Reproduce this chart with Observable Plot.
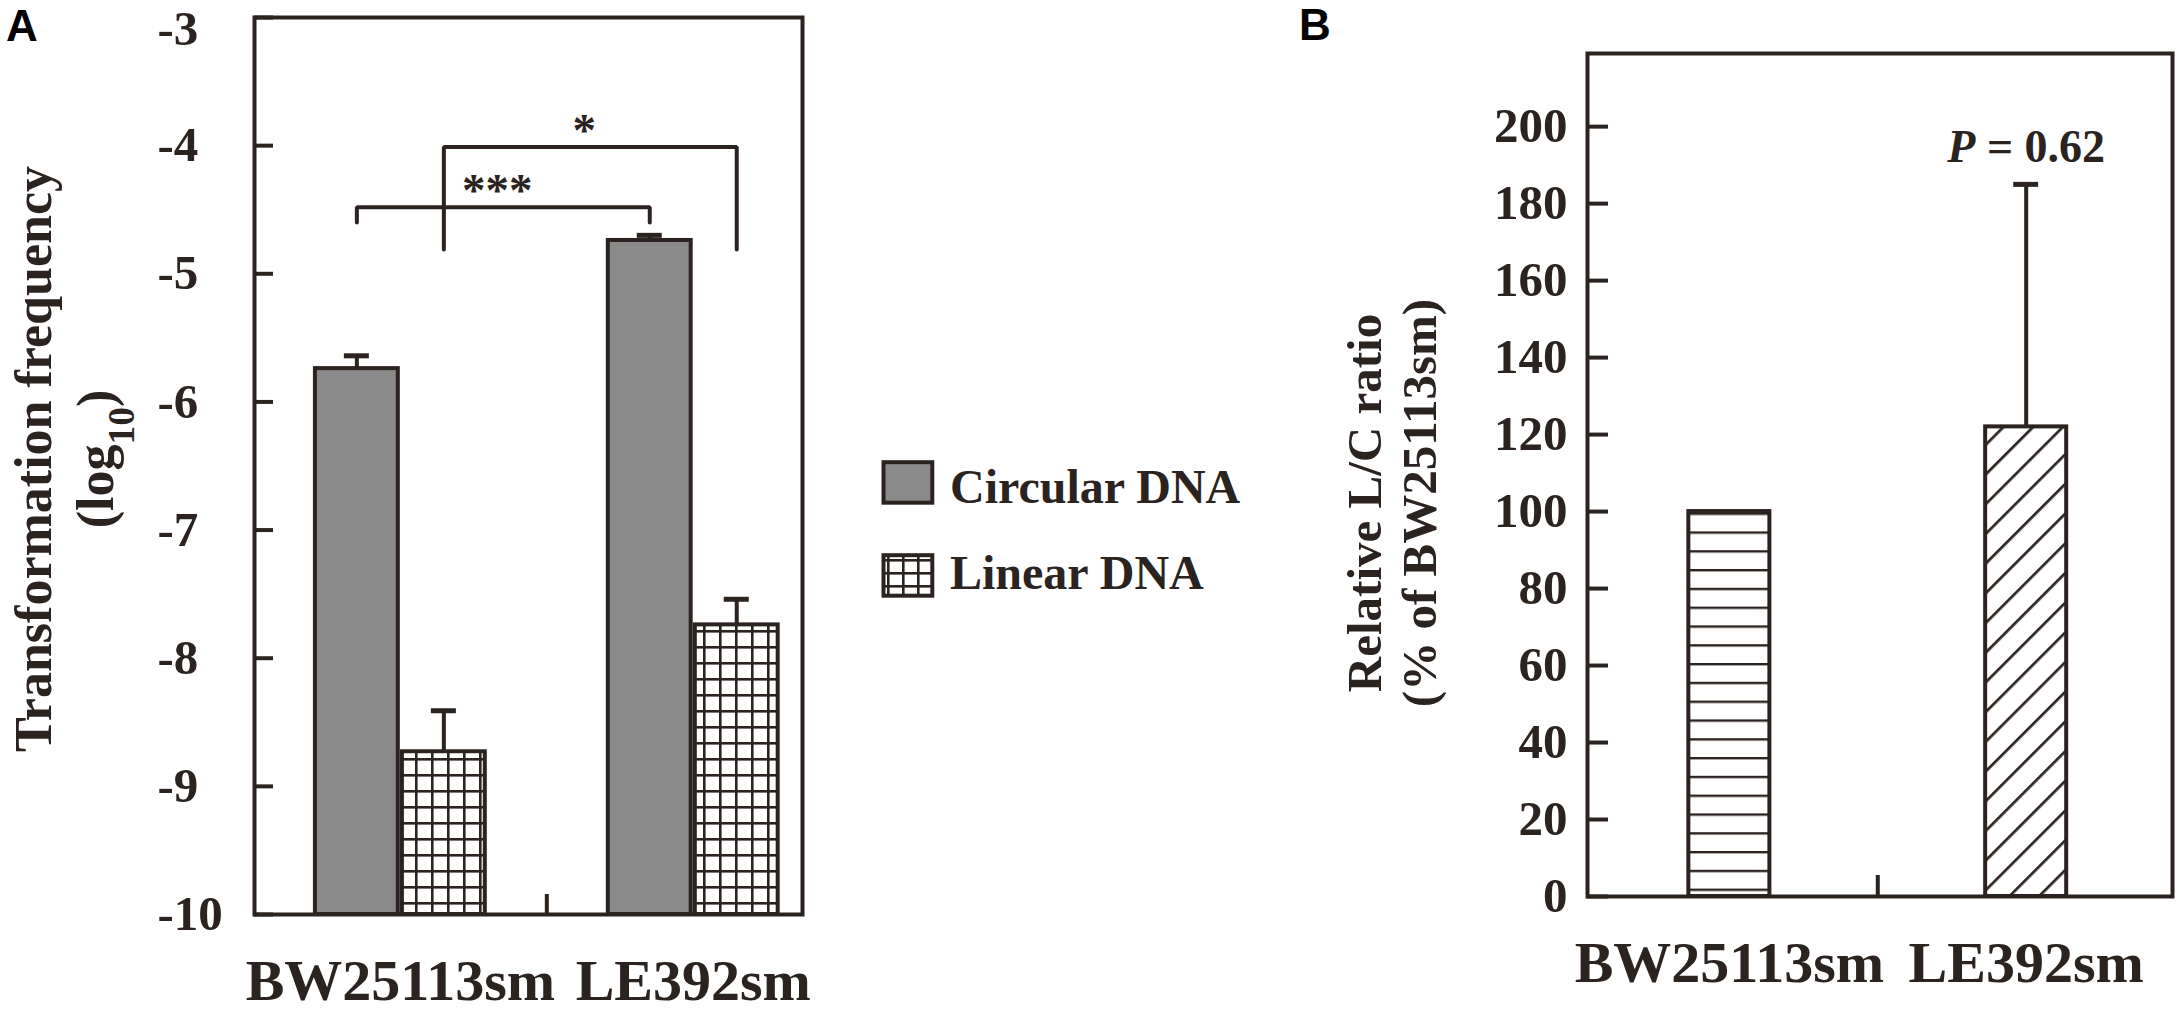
<!DOCTYPE html>
<html>
<head>
<meta charset="utf-8">
<script src="https://cdn.jsdelivr.net/npm/d3@7"></script>
<script src="https://cdn.jsdelivr.net/npm/@observablehq/plot@0.6"></script>
<style>
  html, body { margin: 0; padding: 0; background: #fff; }
  #root { position: relative; width: 2180px; height: 1017px; overflow: hidden; background: #fff; }
  .panel { position: absolute; top: 0; }
  .plabel { position: absolute; font-family: "Liberation Sans", Arial, sans-serif; font-weight: bold; font-size: 44px; line-height: 1; color: #000; }
  #legend { position: absolute; left: 870px; top: 440px; }
</style>
</head>
<body>
<div id="root">
  <div class="plabel" style="left:6px;top:4px;">A</div>
  <div class="plabel" style="left:1299px;top:3px;">B</div>
</div>
<script>
// ---------------- data ----------------
const strains = ["BW25113sm", "LE392sm"];
const dnaTypes = ["Circular DNA", "Linear DNA"];
// Panel A: transformation frequency (log10), mean and error
const circularMean = [-5.74, -4.74];
const circularErr  = [0.10, 0.04];
const linearMean   = [-8.73, -7.74];
const linearErr    = [0.32, 0.20];
const ticksA = [-10, -9, -8, -7, -6, -5, -4, -3];
// significance brackets (panel A)
const sigLabels = ["***", "*"];
const sigTypes  = ["Circular DNA", "Linear DNA"];
const sigTop    = [-4.48, -4.01];
const sigDrop   = [-4.60, -4.81];
// Panel B: relative L/C ratio (% of BW25113sm)
const lcRatio    = [100, 122];
const lcRatioErr = [0, 63];
const ticksB = [0, 20, 40, 60, 80, 100, 120, 140, 160, 180, 200];
const pLabel = "P = 0.62";
const titleA = "Transformation frequency\n(log10)";
const titleB = "Relative L/C ratio\n(% of BW25113sm)";

// ---------------- styles / layout ----------------
const INK = "#2b2320";
const GRAY = "#8a8a8a";
const SERIF = "'Liberation Serif', 'Times New Roman', Times, serif";
const BAR_A = 0.283, GAP_A = 0.007, CAP_A = 0.0427;
const HALF_B = 0.1365, CAP_B = 0.042;
const svgNS = "http://www.w3.org/2000/svg";
const dimA = {width: 880, height: 1017, marginTop: 17, marginBottom: 103, marginLeft: 254, marginRight: 78};
const dimB = {width: 880, height: 1017, marginTop: 53, marginBottom: 121, marginLeft: 287, marginRight: 8};
const xDomA = [-0.498, 1.373];
const xDomB = [-0.478, 1.493];
const innerW = d => d.width - d.marginLeft - d.marginRight;
// tick length in px converted to x units
const tickUnits = (px, dom, dim) => px * (dom[1] - dom[0]) / innerW(dim);

function defsMark(markup) {
  return () => {
    const d = document.createElementNS(svgNS, "defs");
    d.innerHTML = markup;
    return d;
  };
}

// ---------------- Panel A ----------------
const rowsA = strains.flatMap((s, i) => [
  {strain: s, idx: i, type: dnaTypes[0], side: -1, mean: circularMean[i], err: circularErr[i]},
  {strain: s, idx: i, type: dnaTypes[1], side: 1, mean: linearMean[i], err: linearErr[i]}
]);
const x1A = d => d.side < 0 ? d.idx - GAP_A - BAR_A : d.idx + GAP_A;
const x2A = d => d.side < 0 ? d.idx - GAP_A : d.idx + GAP_A + BAR_A;
const cxOf = (idx, side) => idx + side * (GAP_A + BAR_A / 2);
const cxA = d => cxOf(d.idx, d.side);

const bracketPts = sigLabels.flatMap((lab, k) => {
  const side = sigTypes[k] === dnaTypes[0] ? -1 : 1;
  const xa = cxOf(0, side), xb = cxOf(1, side);
  return [
    {k, x: xa, y: sigDrop[k]}, {k, x: xa, y: sigTop[k]},
    {k, x: xb, y: sigTop[k]}, {k, x: xb, y: sigDrop[k]}
  ];
});
const sigRows = sigLabels.map((lab, k) => {
  const side = sigTypes[k] === dnaTypes[0] ? -1 : 1;
  return {label: lab, x: (cxOf(0, side) + cxOf(1, side)) / 2, y: sigTop[k]};
});

const gridDefsA = `<pattern id="gridA" patternUnits="userSpaceOnUse" x="15" y="6" width="16" height="16">
  <rect width="16" height="16" fill="#fff"/>
  <rect width="16" height="2.6" fill="${INK}"/>
  <rect width="2.6" height="16" fill="${INK}"/>
</pattern>`;

const topTickA = ticksA[ticksA.length - 1];
const tickLenA = tickUnits(19, xDomA, dimA);
const plotA = Plot.plot({
  ...dimA,
  x: {type: "linear", domain: xDomA},
  y: {domain: [ticksA[0], topTickA]},
  style: {fontFamily: SERIF, fontWeight: "bold", color: INK, background: "transparent", overflow: "visible"},
  marks: [
    defsMark(gridDefsA),
    Plot.ruleX(rowsA, {x: cxA, y1: "mean", y2: d => d.mean + d.err, stroke: INK, strokeWidth: 4}),
    Plot.ruleY(rowsA, {y: d => d.mean + d.err, x1: d => cxA(d) - CAP_A, x2: d => cxA(d) + CAP_A, stroke: INK, strokeWidth: 5}),
    Plot.rect(rowsA.filter(d => d.type === dnaTypes[0]), {x1: x1A, x2: x2A, y1: ticksA[0], y2: "mean", fill: GRAY, stroke: INK, strokeWidth: 4}),
    Plot.rect(rowsA.filter(d => d.type === dnaTypes[1]), {x1: x1A, x2: x2A, y1: ticksA[0], y2: "mean", fill: "url(#gridA)", stroke: INK, strokeWidth: 4}),
    Plot.line(bracketPts, {x: "x", y: "y", z: "k", stroke: INK, strokeWidth: 4, strokeLinejoin: "miter"}),
    Plot.text(sigRows, {x: "x", y: "y", text: "label", lineAnchor: "bottom", dx: -6, dy: -1, fontSize: 47, fill: INK}),
    // inward y ticks
    Plot.ruleY(ticksA, {y: d => d, x1: xDomA[0], x2: xDomA[0] + tickLenA, stroke: INK, strokeWidth: 4}),
    Plot.frame({stroke: INK, strokeWidth: 4}),
    Plot.axisY(ticksA.filter(t => t !== topTickA), {anchor: "left", tickSize: 0, tickPadding: 97, textAnchor: "start", tickFormat: d => String(d), fontSize: 49, label: null}),
    Plot.axisY([topTickA], {anchor: "left", tickSize: 0, tickPadding: 97, textAnchor: "start", lineAnchor: "bottom", dy: 27, tickFormat: d => String(d), fontSize: 49, label: null}),
    Plot.axisX([0, 1], {anchor: "bottom", tickSize: 0, tickPadding: 44, tickFormat: i => strains[i], fontSize: 58, label: null}),
    Plot.axisX([0.5], {anchor: "bottom", tickSize: -20, tickFormat: () => "", stroke: INK, strokeWidth: 4, label: null}),
    Plot.text([titleA], {frameAnchor: "left", rotate: -90, dx: -142, dy: -7, lineAnchor: "bottom", lineHeight: 1.19, textAnchor: "middle", fontSize: 52, fill: INK})
  ]
});

// ---------------- Panel B ----------------
const rowsB = strains.map((s, i) => ({strain: s, idx: i, value: lcRatio[i], err: lcRatioErr[i]}));
const errRowsB = rowsB.filter(d => d.err > 0);
const defsB = `<pattern id="stripesB" patternUnits="userSpaceOnUse" x="0" y="5" width="20" height="18.8">
  <rect width="20" height="18.8" fill="#fff"/>
  <rect width="20" height="2.4" fill="${INK}"/>
</pattern>
<pattern id="hatchB" patternUnits="userSpaceOnUse" width="21" height="21" patternTransform="rotate(45)">
  <rect width="21" height="21" fill="#fff"/>
  <rect width="2.7" height="21" fill="${INK}"/>
</pattern>`;

const tickLenB = tickUnits(21, xDomB, dimB);
const plotB = Plot.plot({
  ...dimB,
  x: {type: "linear", domain: xDomB},
  y: {domain: [0, 219]},
  style: {fontFamily: SERIF, fontWeight: "bold", color: INK, background: "transparent", overflow: "visible"},
  marks: [
    defsMark(defsB),
    Plot.ruleX(errRowsB, {x: "idx", y1: "value", y2: d => d.value + d.err, stroke: INK, strokeWidth: 4}),
    Plot.ruleY(errRowsB, {y: d => d.value + d.err, x1: d => d.idx - CAP_B, x2: d => d.idx + CAP_B, stroke: INK, strokeWidth: 5}),
    Plot.rect(rowsB.filter(d => d.idx === 0), {x1: d => d.idx - HALF_B, x2: d => d.idx + HALF_B, y1: 0, y2: "value", fill: "url(#stripesB)", stroke: INK, strokeWidth: 4}),
    Plot.rect(rowsB.filter(d => d.idx === 1), {x1: d => d.idx - HALF_B, x2: d => d.idx + HALF_B, y1: 0, y2: "value", fill: "url(#hatchB)", stroke: INK, strokeWidth: 4}),
    Plot.text(errRowsB, {x: "idx", y: d => d.value + d.err, text: () => pLabel, lineAnchor: "bottom", dy: -22, fontSize: 46, fill: INK}),
    Plot.ruleY(ticksB, {y: d => d, x1: xDomB[0], x2: xDomB[0] + tickLenB, stroke: INK, strokeWidth: 4}),
    Plot.frame({stroke: INK, strokeWidth: 4}),
    Plot.axisY(ticksB, {anchor: "left", tickSize: 0, tickPadding: 20, tickFormat: d => String(d), fontSize: 49, label: null}),
    Plot.axisX([0, 1], {anchor: "bottom", tickSize: 0, tickPadding: 44, tickFormat: i => strains[i], fontSize: 58, label: null}),
    Plot.axisX([0.5], {anchor: "bottom", tickSize: -21, tickFormat: () => "", stroke: INK, strokeWidth: 4, label: null}),
    Plot.text([titleB], {frameAnchor: "left", rotate: -90, dx: -152, dy: 28, lineAnchor: "bottom", lineHeight: 1.12, textAnchor: "middle", fontSize: 49, fill: INK})
  ]
});

// ---------------- rich text fixes (subscript, italic P) ----------------
function fixTexts(svg) {
  svg.querySelectorAll("text, tspan").forEach(el => {
    if (el.childElementCount) return;
    const t = el.textContent;
    if (t === "(log10)") {
      el.textContent = "(log";
      const sub = document.createElementNS(svgNS, "tspan");
      sub.setAttribute("font-size", "72%");
      sub.setAttribute("baseline-shift", "sub");
      sub.textContent = "10";
      el.appendChild(sub);
      const close = document.createElementNS(svgNS, "tspan");
      close.textContent = ")";
      el.appendChild(close);
    } else if (t === pLabel) {
      el.textContent = "";
      const p = document.createElementNS(svgNS, "tspan");
      p.setAttribute("font-style", "italic");
      p.textContent = pLabel.slice(0, 1);
      el.appendChild(p);
      el.appendChild(document.createTextNode(pLabel.slice(1)));
    }
  });
}
fixTexts(plotA);
fixTexts(plotB);

const root = document.getElementById("root");
plotA.classList.add("panel"); plotA.style.left = "0px";
plotB.classList.add("panel"); plotB.style.left = "1300px";
root.appendChild(plotA);
root.appendChild(plotB);

// ---------------- legend (panel A) ----------------
const legend = document.createElementNS(svgNS, "svg");
legend.setAttribute("id", "legend");
legend.setAttribute("width", "420");
legend.setAttribute("height", "180");
legend.innerHTML = `<defs><pattern id="gridLeg" patternUnits="userSpaceOnUse" x="2" y="2" width="15" height="13">
    <rect width="15" height="13" fill="#fff"/>
    <rect width="15" height="2.6" fill="${INK}"/>
    <rect width="2.6" height="13" fill="${INK}"/>
  </pattern></defs>`;
const swatches = [GRAY, "url(#gridLeg)"];
dnaTypes.forEach((name, k) => {
  const r = document.createElementNS(svgNS, "rect");
  r.setAttribute("x", 13.5); r.setAttribute("y", 22.2 + k * 93);
  r.setAttribute("width", 48.8); r.setAttribute("height", 40.5);
  r.setAttribute("fill", swatches[k]); r.setAttribute("stroke", INK); r.setAttribute("stroke-width", 4);
  legend.appendChild(r);
  const t = document.createElementNS(svgNS, "text");
  t.setAttribute("x", 80); t.setAttribute("y", 63 + k * 86);
  t.setAttribute("font-family", SERIF); t.setAttribute("font-weight", "bold");
  t.setAttribute("font-size", 48); t.setAttribute("fill", INK);
  t.textContent = name;
  legend.appendChild(t);
});
root.appendChild(legend);
</script>
</body>
</html>
